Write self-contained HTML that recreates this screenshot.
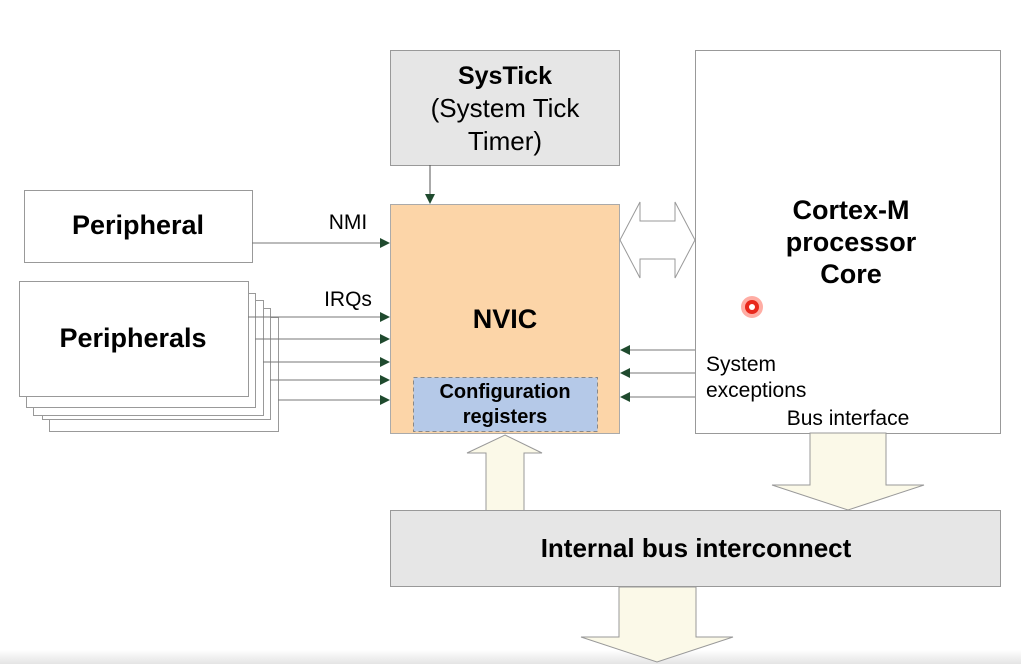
<!DOCTYPE html>
<html><head><meta charset="utf-8"><style>
html,body{margin:0;padding:0;background:#fff;}
svg{display:block;}
text{font-family:"Liberation Sans",Arial,sans-serif;}
</style></head><body>
<svg width="1021" height="664" viewBox="0 0 1021 664" xmlns="http://www.w3.org/2000/svg">
<defs>
<marker id="ah" markerWidth="10" markerHeight="10" refX="9" refY="5" orient="auto" markerUnits="userSpaceOnUse">
<path d="M0,0 L10,5 L0,10 Z" fill="#1f4a2e"/>
</marker>
<linearGradient id="bot" x1="0" y1="0" x2="0" y2="1"><stop offset="0" stop-color="#fff"/><stop offset="1" stop-color="#e4e4e4"/></linearGradient>
</defs>
<rect width="1021" height="664" fill="#fff"/>
<rect x="0" y="650" width="1021" height="14" fill="url(#bot)"/>

<!-- SysTick -->
<rect x="390.5" y="50.5" width="229" height="115" fill="#e6e6e6" stroke="#999"/>
<text x="505" y="84" font-size="25" font-weight="bold" text-anchor="middle">SysTick</text>
<text x="505" y="117" font-size="26" text-anchor="middle">(System Tick</text>
<text x="505" y="150" font-size="26" text-anchor="middle">Timer)</text>
<line x1="430" y1="165" x2="430" y2="203" stroke="#555" marker-end="url(#ah)"/>

<!-- Cortex -->
<rect x="695.5" y="50.5" width="305" height="383" fill="#fff" stroke="#999"/>
<text x="851" y="219" font-size="27" font-weight="bold" text-anchor="middle">Cortex-M</text>
<text x="851" y="251" font-size="27" font-weight="bold" text-anchor="middle">processor</text>
<text x="851" y="283" font-size="27" font-weight="bold" text-anchor="middle">Core</text>
<text x="706" y="371" font-size="21">System</text>
<text x="706" y="397" font-size="21">exceptions</text>
<text x="848" y="425" font-size="21" text-anchor="middle">Bus interface</text>
<circle cx="752" cy="307" r="11" fill="#ff6a5a" opacity="0.55"/>
<circle cx="752" cy="307" r="7" fill="#e8281c"/>
<circle cx="752" cy="307" r="3" fill="#fff"/>

<!-- NVIC -->
<rect x="390.5" y="204.5" width="229" height="229" fill="#fcd5a8" stroke="#aaa"/>
<text x="505" y="328" font-size="27" font-weight="bold" text-anchor="middle">NVIC</text>
<rect x="413.5" y="377.5" width="184" height="54" fill="#b5c9e8" stroke="#888" stroke-dasharray="4,3"/>
<text x="505" y="398" font-size="20" font-weight="bold" text-anchor="middle">Configuration</text>
<text x="505" y="423" font-size="20" font-weight="bold" text-anchor="middle">registers</text>

<!-- double arrow -->
<path d="M620,240 L640,202 L640,221 L675,221 L675,202 L695,240 L675,278 L675,259 L640,259 L640,278 Z" fill="#fff" stroke="#999"/>

<!-- system exception arrows -->
<line x1="695" y1="350" x2="621" y2="350" stroke="#777" marker-end="url(#ah)"/>
<line x1="695" y1="373" x2="621" y2="373" stroke="#777" marker-end="url(#ah)"/>
<line x1="695" y1="397" x2="621" y2="397" stroke="#777" marker-end="url(#ah)"/>

<!-- Peripheral -->
<rect x="24.5" y="190.5" width="228" height="72" fill="#fff" stroke="#999"/>
<text x="138" y="234" font-size="27" font-weight="bold" text-anchor="middle">Peripheral</text>
<line x1="252" y1="243" x2="389" y2="243" stroke="#777" marker-end="url(#ah)"/>
<text x="348" y="229" font-size="21" text-anchor="middle">NMI</text>

<!-- Peripherals stack -->
<rect x="49.5" y="317.5" width="229" height="114" fill="#fff" stroke="#999"/>
<rect x="42.5" y="308.5" width="228" height="111" fill="#fff" stroke="#999"/>
<rect x="33.5" y="300.5" width="230" height="115" fill="#fff" stroke="#999"/>
<rect x="26.5" y="293.5" width="229" height="114" fill="#fff" stroke="#999"/>
<rect x="19.5" y="281.5" width="229" height="115" fill="#fff" stroke="#999"/>
<text x="133" y="347" font-size="27" font-weight="bold" text-anchor="middle">Peripherals</text>
<text x="348" y="306" font-size="21" text-anchor="middle">IRQs</text>
<line x1="248" y1="317" x2="389" y2="317" stroke="#777" marker-end="url(#ah)"/>
<line x1="255" y1="339" x2="389" y2="339" stroke="#777" marker-end="url(#ah)"/>
<line x1="263" y1="362" x2="389" y2="362" stroke="#777" marker-end="url(#ah)"/>
<line x1="270" y1="380" x2="389" y2="380" stroke="#777" marker-end="url(#ah)"/>
<line x1="278" y1="400" x2="389" y2="400" stroke="#777" marker-end="url(#ah)"/>

<!-- up arrow to NVIC -->
<path d="M505,435 L542,453 L524,453 L524,511 L486,511 L486,453 L467,453 Z" fill="#fbf9e8" stroke="#999"/>
<!-- down arrow from cortex -->
<path d="M810,433 L886,433 L886,485 L924,485 L848,510 L772,485 L810,485 Z" fill="#fbf9e8" stroke="#999"/>

<!-- bus -->
<rect x="390.5" y="510.5" width="610" height="76" fill="#e6e6e6" stroke="#999"/>
<text x="696" y="557" font-size="26" font-weight="bold" text-anchor="middle">Internal bus interconnect</text>

<!-- bottom arrow -->
<path d="M619,587 L696,587 L696,637 L733,637 L657,662 L581,637 L619,637 Z" fill="#fbf9e8" stroke="#999"/>
</svg>
</body></html>
